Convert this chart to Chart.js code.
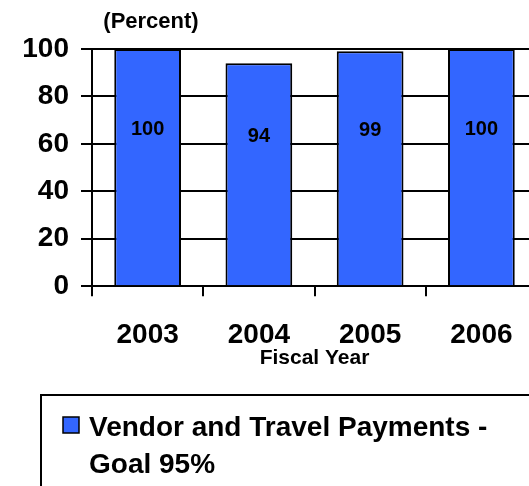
<!DOCTYPE html>
<html>
<head>
<meta charset="utf-8">
<script src="https://cdn.jsdelivr.net/npm/chart.js@4.4.1/dist/chart.umd.min.js"></script>
<style>
  html, body { margin: 0; padding: 0; background: #fff; overflow: hidden; }
  #wrap { position: relative; width: 545px; height: 486px; }
</style>
</head>
<body>
<div id="wrap"><canvas id="chart"></canvas></div>
<script>
// Fiscal year payment results
const years = ["2003", "2004", "2005", "2006"];
const percentValues = [100, 94, 99, 100];
const yTicks = [0, 20, 40, 60, 80, 100];
const seriesLabel = ["Vendor and Travel Payments -", "Goal 95%"];
const unitLabel = "(Percent)";
const axisTitle = "Fiscal Year";

const FONT = "'Liberation Sans', Arial, sans-serif";
const BLUE = "#3366FF";

const labelsPlugin = {
  id: "barLabels",
  afterDatasetsDraw(chart) {
    const ctx = chart.ctx;
    const meta = chart.getDatasetMeta(0);
    ctx.save();
    ctx.font = "bold 20px " + FONT;
    ctx.fillStyle = "#000";
    ctx.textAlign = "center";
    ctx.textBaseline = "middle";
    meta.data.forEach((bar, i) => {
      const { x, y, base } = bar.getProps(["x", "y", "base"]);
      ctx.fillText(String(percentValues[i]), x, (y + base) / 2 - 38);
    });
    ctx.restore();
  },
  afterDraw(chart) {
    const ctx = chart.ctx;
    const left = chart.chartArea.left;
    ctx.save();
    // unit label above the axis
    ctx.font = "bold 22px " + FONT;
    ctx.fillStyle = "#000";
    ctx.textAlign = "center";
    ctx.textBaseline = "alphabetic";
    ctx.fillText(unitLabel, left + 59, 28);

    // legend box
    ctx.lineWidth = 2;
    ctx.strokeStyle = "#000";
    ctx.strokeRect(41, 395, 600, 200);
    ctx.fillStyle = BLUE;
    ctx.fillRect(63, 417, 16, 16);
    ctx.lineWidth = 1.5;
    ctx.strokeRect(63, 417, 16, 16);
    ctx.fillStyle = "#000";
    ctx.font = "bold 28px " + FONT;
    ctx.textAlign = "left";
    seriesLabel.forEach((line, i) => {
      ctx.fillText(line, 89, 436 + i * 37);
    });
    ctx.restore();
  },
};

new Chart(document.getElementById("chart"), {
  type: "bar",
  data: {
    labels: years,
    datasets: [
      {
        label: seriesLabel.join(" "),
        data: percentValues,
        backgroundColor: BLUE,
        borderColor: "#000",
        borderWidth: 2,
        barPercentage: 0.6,
        categoryPercentage: 1,
      },
    ],
  },
  options: {
    responsive: true,
    maintainAspectRatio: false,
    animation: false,
    layout: { padding: { top: 49, right: 8, bottom: 115, left: 0 } },
    plugins: {
      legend: { display: false },
      tooltip: { enabled: false },
    },
    scales: {
      x: {
        offset: true,
        grid: {
          offset: true,
          drawOnChartArea: false,
          color: "#000",
          lineWidth: 2,
          tickLength: 10,
        },
        border: { color: "#000", width: 2 },
        ticks: {
          color: "#000",
          padding: 22,
          maxRotation: 0,
          font: { family: FONT, size: 28, weight: "bold" },
        },
        title: {
          display: true,
          text: axisTitle,
          color: "#000",
          padding: { top: -28, bottom: 0 },
          font: { family: FONT, size: 21, weight: "bold" },
        },
      },
      y: {
        min: 0,
        max: 100,
        afterFit(scale) {
          scale.width = 92;
        },
        afterBuildTicks(scale) {
          scale.ticks = yTicks.map((v) => ({ value: v }));
        },
        grid: {
          color: "#000",
          lineWidth: 2,
          tickLength: 11,
        },
        border: { color: "#000", width: 2 },
        ticks: {
          color: "#000",
          padding: 12,
          font: { family: FONT, size: 28, weight: "bold" },
        },
      },
    },
  },
  plugins: [labelsPlugin],
});
</script>
</body>
</html>
